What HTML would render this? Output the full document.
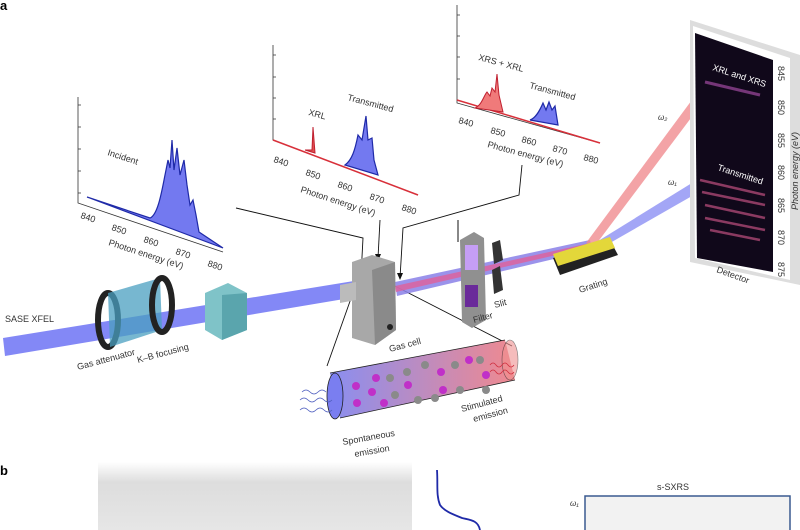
<!DOCTYPE html>
<html><head><meta charset="utf-8"><style>
body{margin:0;background:#fff}
svg{display:block;font-family:"Liberation Sans",sans-serif}
</style></head><body>
<svg width="800" height="530" viewBox="0 0 800 530" xmlns="http://www.w3.org/2000/svg">
<defs>
<linearGradient id="tube" x1="0" x2="1" y1="0" y2="0"><stop offset="0" stop-color="#8a8ef0"/><stop offset="1" stop-color="#f0898f"/></linearGradient>
<linearGradient id="gb" x1="0" x2="0" y1="0" y2="1"><stop offset="0" stop-color="#fff"/><stop offset="0.3" stop-color="#ddd"/><stop offset="1" stop-color="#e6e6e6"/></linearGradient>
</defs>
<text x="0" y="10" font-size="13" font-weight="bold">a</text>
<text x="0" y="475" font-size="13" font-weight="bold">b</text>

<!-- Incident plot -->
<g stroke="#333" stroke-width="0.8" fill="none">
<path d="M78,97 V203 L223,252"/>
<path d="M78,105h3M78,127h3M78,149h3M78,171h3M78,193h3"/>
</g>
<path d="M87,197 L150,218 C158,215 162,190 165,175 L168,160 170,168 172,140 174,170 177,148 180,175 184,160 187,185 190,205 193,200 196,215 199,232 L223,248 Z" fill="#7379f0" stroke="#1f2aa8" stroke-width="1.2"/>
<g font-size="9" fill="#333">
<text transform="translate(80,218) rotate(18)">840</text><text transform="translate(111,230) rotate(18)">850</text><text transform="translate(143,242) rotate(18)">860</text><text transform="translate(175,254) rotate(18)">870</text><text transform="translate(207,266) rotate(18)">880</text>
<text transform="translate(108,245) rotate(18)">Photon energy (eV)</text>
<text transform="translate(107,155) rotate(18)">Incident</text>
</g>

<!-- Middle plot -->
<g stroke="#333" stroke-width="0.8" fill="none">
<path d="M273,45 V140 L418,195"/>
<path d="M273,55h3M273,77h3M273,98h3M273,119h3"/>
</g>
<path d="M273,140 L418,195" stroke="#d8303a" stroke-width="1.5"/>
<path d="M305,150 L312,150 313,127 315,153 Z" fill="#e05050" stroke="#c02030"/>
<path d="M345,165 C352,160 355,150 358,135 L362,140 366,116 368,140 372,138 374,160 378,175 Z" fill="#7379f0" stroke="#1f2aa8" stroke-width="1.2"/>
<g font-size="9" fill="#333">
<text transform="translate(273,162) rotate(18)">840</text><text transform="translate(305,175) rotate(18)">850</text><text transform="translate(337,187) rotate(18)">860</text><text transform="translate(369,199) rotate(18)">870</text><text transform="translate(401,210) rotate(18)">880</text>
<text transform="translate(300,192) rotate(18)">Photon energy (eV)</text>
<text transform="translate(308,115) rotate(15)">XRL</text>
<text transform="translate(347,100) rotate(15)">Transmitted</text>
</g>

<!-- Right plot -->
<g stroke="#333" stroke-width="0.8" fill="none">
<path d="M457,5 V103 L600,143"/>
<path d="M457,15h3M457,36h3M457,57h3M457,79h3"/>
</g>
<path d="M457,100 L600,143" stroke="#d8303a" stroke-width="1.5"/>
<path d="M475,108 C482,105 484,95 487,92 L490,96 492,88 495,92 497,74 499,95 503,112 Z" fill="#f07a7a" stroke="#c02030"/>
<path d="M530,120 C536,118 540,110 543,103 L546,110 549,102 552,110 555,106 558,125 Z" fill="#7379f0" stroke="#1f2aa8" stroke-width="1.2"/>
<g font-size="9" fill="#333">
<text transform="translate(458,123) rotate(15)">840</text><text transform="translate(490,133) rotate(15)">850</text><text transform="translate(521,142) rotate(15)">860</text><text transform="translate(552,151) rotate(15)">870</text><text transform="translate(583,160) rotate(15)">880</text>
<text transform="translate(487,147) rotate(15)">Photon energy (eV)</text>
<text transform="translate(478,60) rotate(15)">XRS + XRL</text>
<text transform="translate(529,88) rotate(15)">Transmitted</text>
</g>

<!-- connector lines -->
<g stroke="#111" stroke-width="0.9" fill="none">
<path d="M236,208 L363,238 L361,276"/>
<path d="M380,220 L378,258"/>
<path d="M522,165 L519,195 L403,228 L400,278"/>
<path d="M354,290 L327,366"/><path d="M393,285 L512,346"/>
</g>
<g fill="#111"><path d="M358,272l3,7 3,-7z"/><path d="M375,254l3,7 3,-7z"/><path d="M397,273l3,7 3,-7z"/></g>

<!-- beams -->
<path d="M3,338 L360,280 L362,296 L5,356 Z" fill="#6d73f4" opacity="0.85"/>
<path d="M395,282 L590,240 L592,250 L397,296 Z" fill="#8a80e8" opacity="0.85"/>
<path d="M395,286 L590,243 L591,247 L396,292 Z" fill="#e0609a" opacity="0.8"/>
<path d="M586,243 L703,85 L712,90 L594,247 Z" fill="#f08c90" opacity="0.8"/>
<path d="M590,246 L700,178 L706,188 L596,251 Z" fill="#8c90f4" opacity="0.8"/>

<!-- gas attenuator -->
<g>
<ellipse cx="108" cy="320" rx="10" ry="27" fill="none" stroke="#222" stroke-width="6"/>
<path d="M108,293 L160,278 L162,330 L110,347 Z" fill="#4a9fc0" opacity="0.75"/>
<ellipse cx="162" cy="305" rx="10" ry="27" fill="none" stroke="#222" stroke-width="6"/>
</g>
<!-- K-B -->
<path d="M205,293 L228,283 L247,293 L247,330 L222,340 L205,330 Z" fill="#7fc3c8"/>
<path d="M222,295 L247,293 L247,330 L222,340 Z" fill="#5aa5ad"/>
<!-- gas cell -->
<path d="M352,262 L372,255 L395,262 L396,330 L375,345 L352,338 Z" fill="#a8a8a8"/>
<path d="M372,270 L395,262 L396,330 L375,345 Z" fill="#8a8a8a"/>
<path d="M340,285 L356,282 L356,300 L340,303 Z" fill="#bbb"/>
<circle cx="390" cy="327" r="3" fill="#222"/>
<!-- filter & slit -->
<path d="M460,240 L474,232 L484,238 L486,320 L472,328 L462,322 Z" fill="#909090"/>
<rect x="465" y="245" width="13" height="25" fill="#c59ef5"/>
<rect x="465" y="285" width="13" height="22" fill="#6a2a9a"/>
<path d="M492,243 L500,240 L503,260 L494,264 Z" fill="#333"/>
<path d="M492,270 L500,266 L503,290 L494,294 Z" fill="#333"/>
<path d="M458,220 V242" stroke="#111" stroke-width="1"/>
<!-- grating -->
<path d="M553,258 L610,240 L618,255 L560,275 Z" fill="#222"/>
<path d="M553,254 L610,237 L615,248 L558,266 Z" fill="#e3d73a"/>
<!-- detector -->
<path d="M690,20 L800,55 L800,285 L690,262 Z" fill="#ddd"/>
<path d="M693,26 L790,58 L790,280 L695,258 Z" fill="#fff"/>
<path d="M695,33 L773,60 L773,272 L697,258 Z" fill="#10081a"/>
<path d="M705,82 L760,95" stroke="#a04aa0" stroke-width="3" opacity="0.7"/>
<g stroke="#c05080" stroke-width="2.5" opacity="0.7">
<path d="M700,180 L765,195"/><path d="M702,192 L765,205"/><path d="M705,205 L765,218"/><path d="M705,218 L765,230"/><path d="M710,230 L760,240"/>
</g>
<g font-size="9" fill="#fff">
<text transform="translate(712,70) rotate(18)">XRL and XRS</text>
<text transform="translate(717,170) rotate(18)">Transmitted</text>
</g>
<g font-size="9" fill="#333">
<text transform="translate(778,66) rotate(90)">845</text><text transform="translate(778,100) rotate(90)">850</text><text transform="translate(778,133) rotate(90)">855</text><text transform="translate(778,165) rotate(90)">860</text><text transform="translate(778,198) rotate(90)">865</text><text transform="translate(778,230) rotate(90)">870</text><text transform="translate(778,262) rotate(90)">875</text>
<text transform="translate(798,210) rotate(-90)" font-style="italic">Photon energy (eV)</text>
<text transform="translate(716,272) rotate(20)">Detector</text>
<text transform="translate(658,120)" font-style="italic" font-size="8">ω₂</text>
<text transform="translate(668,185)" font-style="italic" font-size="8">ω₁</text>
<text x="5" y="322">SASE XFEL</text>
<text transform="translate(78,370) rotate(-15)">Gas attenuator</text>
<text transform="translate(138,363) rotate(-15)">K–B focusing</text>
<text transform="translate(390,352) rotate(-15)">Gas cell</text>
<text transform="translate(474,323) rotate(-15)">Filter</text>
<text transform="translate(495,308) rotate(-15)">Slit</text>
<text transform="translate(580,293) rotate(-18)">Grating</text>
</g>
<!-- tube inset -->
<path d="M330,373 L505,340 L515,380 L340,418 Z" fill="url(#tube)"/>
<path d="M330,373 L505,340 M340,418 L515,380" stroke="#222" stroke-width="0.8"/>
<ellipse cx="335" cy="396" rx="8" ry="23" fill="#7a7ef0" stroke="#222" stroke-width="0.8"/>
<ellipse cx="510" cy="360" rx="8" ry="20" fill="#f09090" stroke="#222" stroke-width="0.6" opacity="0.6"/>
<g fill="#c030c8"><circle cx="356" cy="386" r="4"/><circle cx="372" cy="392" r="4"/><circle cx="357" cy="403" r="4"/><circle cx="376" cy="378" r="4"/><circle cx="384" cy="403" r="4"/><circle cx="408" cy="385" r="4"/><circle cx="441" cy="372" r="4"/><circle cx="443" cy="390" r="4"/><circle cx="469" cy="360" r="4"/><circle cx="486" cy="375" r="4"/></g>
<g fill="#8a8a8a"><circle cx="390" cy="378" r="4"/><circle cx="407" cy="372" r="4"/><circle cx="425" cy="365" r="4"/><circle cx="455" cy="365" r="4"/><circle cx="395" cy="395" r="4"/><circle cx="418" cy="400" r="4"/><circle cx="435" cy="398" r="4"/><circle cx="460" cy="390" r="4"/><circle cx="480" cy="360" r="4"/><circle cx="486" cy="390" r="4"/></g>
<path d="M300,400 q4,-4 8,0 t8,0 t8,0 t8,0 M300,410 q4,-4 8,0 t8,0 t8,0 t8,0 M302,392 q4,-4 8,0 t8,0 t8,0" stroke="#5060c0" fill="none" stroke-width="0.8"/>
<path d="M490,365 q3,-4 6,0 t6,0 t6,0 t6,0 M490,372 q3,-4 6,0 t6,0 t6,0 t6,0" stroke="#d03040" fill="none" stroke-width="0.8"/>
<g font-size="9" fill="#333">
<text transform="translate(343,445) rotate(-10)">Spontaneous</text>
<text transform="translate(355,457) rotate(-10)">emission</text>
<text transform="translate(462,412) rotate(-15)">Stimulated</text>
<text transform="translate(474,422) rotate(-15)">emission</text>
</g>

<!-- panel b -->
<rect x="98" y="462" width="314" height="68" fill="url(#gb)"/>
<path d="M437,470 C438,485 436,495 440,505 C445,512 455,515 462,518 C470,520 478,520 480,530" stroke="#1f2aa8" stroke-width="1.8" fill="none"/>
<text x="657" y="490" font-size="9" fill="#333">s-SXRS</text>
<rect x="585" y="496" width="205" height="40" fill="#f2f2f2" stroke="#3a5a90" stroke-width="1.5"/>
<text x="570" y="506" font-size="8" font-style="italic" fill="#333">ω₁</text>
</svg>
</body></html>
